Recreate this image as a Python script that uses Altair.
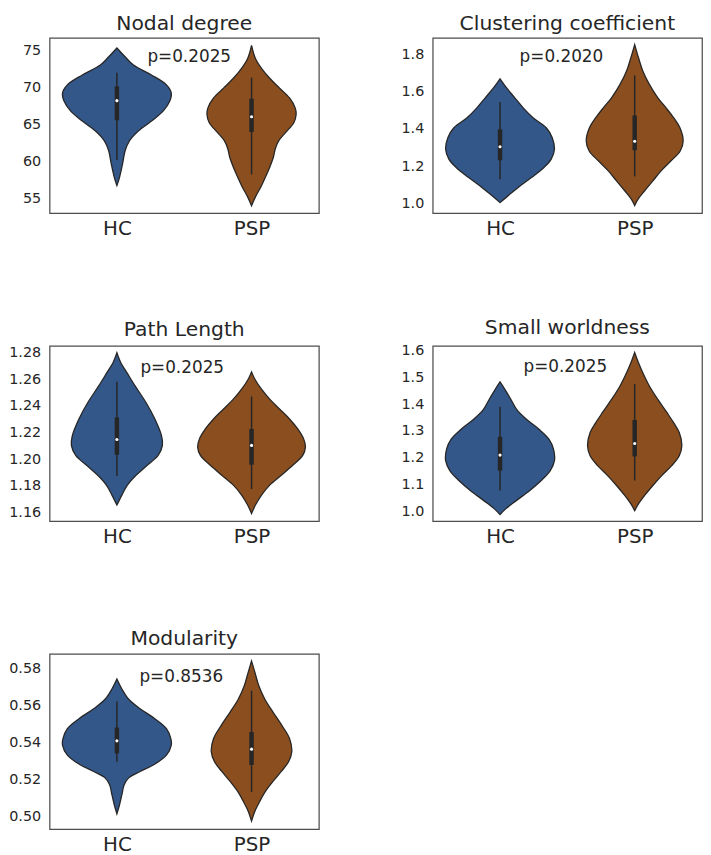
import altair as alt
import pandas as pd

FONT = "DejaVu Sans"
TXT = "#262626"
FRAME = "#4d4d4d"
C_HC = "#34578a"
C_PSP = "#8b4f1f"

groups = ["HC", "PSP"]
centers = [0, 1]

titles = ["Nodal degree", "Clustering coefficient", "Path Length", "Small worldness", "Modularity"]
p_labels = ["p=0.2025", "p=0.2020", "p=0.2025", "p=0.2025", "p=0.8536"]
p_x = [0.537, 0.456, 0.485, 0.485, 0.478]
p_y = [74.1, 1.787, 1.2683, 1.539, 0.5752]
y_domains = [[53.0, 76.75], [0.947, 1.89], [1.1533, 1.2852], [0.963, 1.6185], [0.493, 0.588]]
y_ticks = [
    [55, 60, 65, 70, 75],
    [1.0, 1.2, 1.4, 1.6, 1.8],
    [1.16, 1.18, 1.20, 1.22, 1.24, 1.26, 1.28],
    [1.0, 1.1, 1.2, 1.3, 1.4, 1.5, 1.6],
    [0.50, 0.52, 0.54, 0.56, 0.58],
]
y_formats = ["d", ".1f", ".2f", ".1f", ".2f"]

# violin outlines: value levels and half-widths (category units)
nodal_hc_val = [75.40, 74.20, 73.08, 71.74, 70.40, 69.29, 68.17, 66.83, 65.49, 64.15, 62.81, 61.47, 59.69, 57.90, 56.74]
nodal_hc_hw = [0, .061, .123, .257, .368, .404, .392, .343, .257, .159, .093, .061, .042, .020, 0]
nodal_psp_val = [75.76, 73.97, 72.63, 71.29, 69.96, 68.62, 67.28, 66.38, 65.27, 63.93, 62.81, 61.70, 60.58, 59.24, 57.90, 56.56, 55.22, 54.02]
nodal_psp_hw = [0, .029, .074, .135, .208, .282, .324, .331, .314, .252, .201, .176, .162, .135, .103, .069, .029, 0]

clus_hc_val = [1.670, 1.621, 1.568, 1.514, 1.461, 1.407, 1.354, 1.291, 1.238, 1.193, 1.139, 1.086, 1.050, 1.004]
clus_hc_hw = [0, .049, .110, .172, .245, .343, .387, .404, .380, .326, .233, .135, .074, 0]
clus_psp_val = [1.854, 1.782, 1.711, 1.639, 1.568, 1.514, 1.461, 1.407, 1.336, 1.282, 1.229, 1.175, 1.121, 1.068, 1.023, 0.988]
clus_psp_hw = [0, .029, .061, .110, .172, .233, .289, .336, .360, .338, .270, .196, .135, .074, .025, 0]

path_hc_val = [1.2800, 1.2725, 1.2651, 1.2551, 1.2426, 1.2302, 1.2177, 1.2103, 1.2028, 1.1953, 1.1878, 1.1804, 1.1729, 1.1654]
path_hc_hw = [0, .029, .074, .135, .216, .282, .331, .338, .306, .225, .142, .078, .037, 0]
path_psp_val = [1.2656, 1.2601, 1.2526, 1.2451, 1.2377, 1.2302, 1.2227, 1.2152, 1.2090, 1.2028, 1.1953, 1.1878, 1.1804, 1.1729, 1.1654, 1.1590]
path_psp_hw = [0, .025, .074, .135, .208, .282, .343, .387, .400, .380, .306, .221, .135, .074, .029, 0]

small_hc_val = [1.4837, 1.4552, 1.4181, 1.3809, 1.3438, 1.3067, 1.2696, 1.2324, 1.1891, 1.1520, 1.1149, 1.0777, 1.0406, 1.0097, 0.9874]
small_hc_hw = [0, .037, .081, .123, .196, .289, .363, .397, .404, .373, .306, .221, .123, .044, 0]
small_psp_val = [1.5938, 1.5542, 1.5171, 1.4676, 1.4181, 1.3686, 1.3314, 1.2943, 1.2448, 1.2077, 1.1705, 1.1334, 1.0963, 1.0592, 1.0282, 1.0022]
small_psp_hw = [0, .029, .061, .110, .172, .240, .289, .331, .350, .331, .275, .201, .135, .074, .029, 0]

mod_hc_val = [0.5743, 0.5689, 0.5635, 0.5582, 0.5528, 0.5474, 0.5421, 0.5385, 0.5331, 0.5277, 0.5242, 0.5206, 0.5170, 0.5116, 0.5063, 0.5012]
mod_hc_hw = [0, .037, .086, .172, .282, .368, .400, .404, .368, .270, .172, .086, .054, .037, .020, 0]
mod_psp_val = [0.5841, 0.5779, 0.5707, 0.5635, 0.5564, 0.5492, 0.5421, 0.5349, 0.5295, 0.5242, 0.5188, 0.5134, 0.5080, 0.5027, 0.4973]
mod_psp_hw = [0, .025, .054, .098, .159, .225, .282, .299, .275, .221, .159, .103, .061, .025, 0]

# inner box stats: whisker low, q1, median, q3, whisker high
nodal_box = {"HC": [60.2, 65.6, 68.26, 70.2, 72.05], "PSP": [58.26, 64.02, 66.07, 68.53, 71.38]}
clus_box = {"HC": [1.130, 1.232, 1.305, 1.398, 1.545], "PSP": [1.145, 1.286, 1.334, 1.473, 1.689]}
path_box = {"HC": [1.1873, 1.2033, 1.2147, 1.2314, 1.2583], "PSP": [1.1774, 1.1958, 1.2103, 1.2227, 1.2471]}
small_box = {"HC": [1.0777, 1.1520, 1.2101, 1.2782, 1.3908], "PSP": [1.1149, 1.2052, 1.2535, 1.3413, 1.4762]}
mod_box = {"HC": [0.5295, 0.5340, 0.5408, 0.5480, 0.5621], "PSP": [0.5131, 0.5277, 0.5363, 0.5456, 0.5680]}

profiles = [
    ((nodal_hc_val, nodal_hc_hw), (nodal_psp_val, nodal_psp_hw)),
    ((clus_hc_val, clus_hc_hw), (clus_psp_val, clus_psp_hw)),
    ((path_hc_val, path_hc_hw), (path_psp_val, path_psp_hw)),
    ((small_hc_val, small_hc_hw), (small_psp_val, small_psp_hw)),
    ((mod_hc_val, mod_hc_hw), (mod_psp_val, mod_psp_hw)),
]
boxes = [nodal_box, clus_box, path_box, small_box, mod_box]

W, H = 272, 177


def panel(i):
    rows = []
    for g, c, (vals, hws) in zip(groups, centers, profiles[i]):
        for v, hw in zip(vals, hws):
            rows.append({"group": g, "value": v, "lo": c - hw, "hi": c + hw})
    vdf = pd.DataFrame(rows)
    brows = []
    for g, c in zip(groups, centers):
        wlo, q1, med, q3, whi = boxes[i][g]
        brows.append({"group": g, "center": c, "wlo": wlo, "q1": q1, "med": med, "q3": q3, "whi": whi})
    bdf = pd.DataFrame(brows)
    tdf = pd.DataFrame({"x": [p_x[i]], "y": [p_y[i]], "label": [p_labels[i]]})

    xs = alt.Scale(domain=[-0.5, 1.5], nice=False, zero=False)
    ys = alt.Scale(domain=y_domains[i], nice=False, zero=False)
    xaxis = alt.Axis(values=[0, 1], labelExpr="datum.value == 0 ? 'HC' : 'PSP'",
                     labelFontSize=20, labelPadding=6, title=None)
    yaxis = alt.Axis(values=y_ticks[i], format=y_formats[i], labelFontSize=14.5,
                     labelPadding=9, labelOverlap=False, title=None)

    def X(f):
        return alt.X(f, scale=xs, axis=xaxis)

    def Y(f):
        return alt.Y(f, scale=ys, axis=yaxis)

    area = alt.Chart(vdf).mark_area(
        orient="horizontal", interpolate="catmull-rom", stroke=TXT, strokeWidth=1.3, opacity=1
    ).encode(
        y=Y("value:Q"),
        x=X("lo:Q"),
        x2="hi:Q",
        color=alt.Color("group:N", scale=alt.Scale(domain=groups, range=[C_HC, C_PSP]), legend=None),
    )
    whisk = alt.Chart(bdf).mark_rule(color=TXT, strokeWidth=1.5).encode(
        x=X("center:Q"), y=Y("wlo:Q"), y2="whi:Q"
    )
    box = alt.Chart(bdf).mark_rule(color=TXT, strokeWidth=4.5).encode(
        x=X("center:Q"), y=Y("q1:Q"), y2="q3:Q"
    )
    med = alt.Chart(bdf).mark_point(filled=True, color="white", size=10, opacity=1, shape="circle").encode(
        x=X("center:Q"), y=Y("med:Q")
    )
    txt = alt.Chart(tdf).mark_text(font=FONT, fontSize=17, color=TXT).encode(
        x=X("x:Q"), y=Y("y:Q"), text="label:N"
    )
    return alt.layer(area, whisk, box, med, txt).properties(
        width=W, height=H,
        title=alt.TitleParams(titles[i], fontSize=20.5, font=FONT, fontWeight="normal",
                              color=TXT, anchor="middle", frame="group", offset=4),
    )


chart = alt.concat(
    *[panel(i) for i in range(5)], columns=2, bounds="flush",
    spacing={"row": 134, "column": 115},
).properties(
    padding=0
).configure_view(
    stroke=FRAME, strokeWidth=1.25
).configure_axis(
    domain=False, ticks=False, grid=False, labelFont=FONT, labelColor=TXT, labelOverlap=False
)

chart.save("out.html", embed_options={"renderer": "svg", "actions": False})
